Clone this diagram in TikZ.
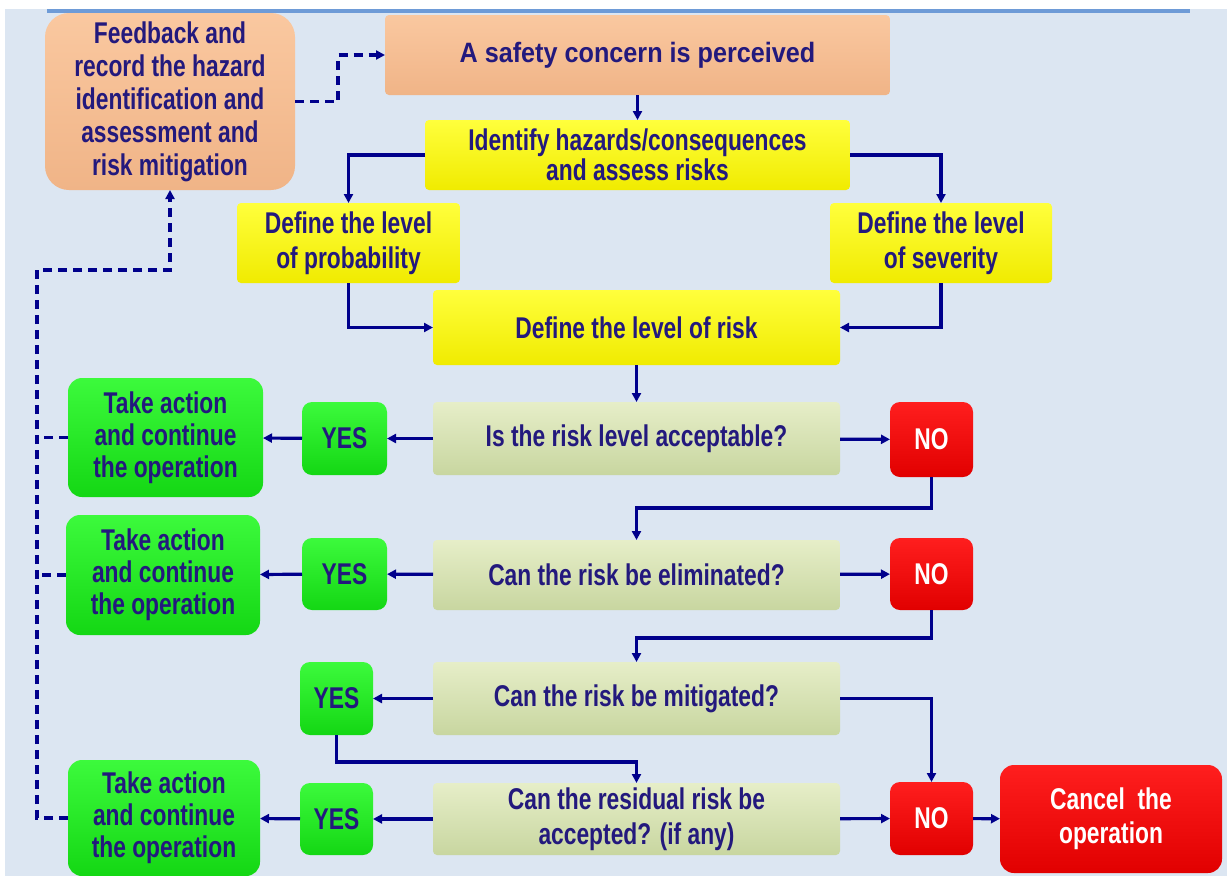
\documentclass[tikz,border=0pt]{standalone}
\usepackage{fontspec}
\setmainfont{Liberation Sans}[FakeStretch=0.76]
\newfontfamily\widef{Liberation Sans}[FakeStretch=0.9]
\usetikzlibrary{arrows.meta}
\definecolor{bgc}{RGB}{220,230,242}
\definecolor{topline}{RGB}{110,155,215}
\definecolor{navy}{RGB}{0,0,140}
\definecolor{txtc}{RGB}{35,25,125}
\definecolor{orangeA}{RGB}{250,200,160}
\definecolor{orangeB}{RGB}{240,180,135}
\definecolor{yellowA}{RGB}{255,255,60}
\definecolor{yellowB}{RGB}{240,235,0}
\definecolor{oliveA}{RGB}{230,238,200}
\definecolor{oliveB}{RGB}{200,214,160}
\definecolor{greenA}{RGB}{60,250,60}
\definecolor{greenB}{RGB}{20,215,20}
\definecolor{redA}{RGB}{255,30,30}
\definecolor{redB}{RGB}{225,0,0}
\tikzset{
  box/.style={inner sep=0pt, outer sep=0pt, align=center, text=txtc,
    font=\fontsize{30}{33}\selectfont\bfseries},
  orangebox/.style={box, top color=orangeA, bottom color=orangeB},
  yellowbox/.style={box, top color=yellowA, bottom color=yellowB, rounded corners=4pt},
  qbox/.style={box, top color=oliveA, bottom color=oliveB, rounded corners=4pt},
  greenbox/.style={box, top color=greenA, bottom color=greenB},
  redbox/.style={box, top color=redA, bottom color=redB, text=white},
  conn/.style={draw=navy, line width=3.2pt, -{Triangle[length=9pt,width=9pt]}},
  fbline/.style={draw=navy, line width=3.2pt, dash pattern=on 9pt off 6pt},
}
\begin{document}
\begin{tikzpicture}[x=1pt,y=-1pt]
\useasboundingbox (0,0) rectangle (1227,876);
\fill[white] (0,0) rectangle (1227,876);
\fill[bgc] (5,9) rectangle (1227,876);
\draw[topline, line width=3.5pt] (47,11) -- (1190,11);

% nodes
\node[orangebox, rounded corners=24pt, minimum width=250pt, minimum height=177pt] (fb) at (170,101.5)
  {Feedback and\\record the hazard\\identification and\\assessment and\\risk mitigation};
\node[orangebox, rounded corners=4pt, minimum width=505pt, minimum height=80pt, font=\widef\fontsize{28}{33}\selectfont\bfseries] (safe) at (637.5,55)
  {A safety concern is perceived};
\node[yellowbox, minimum width=425pt, minimum height=70pt, font=\fontsize{30}{30}\selectfont\bfseries] (ident) at (637.5,155)
  {Identify hazards/consequences\\and assess risks};
\node[yellowbox, minimum width=223pt, minimum height=80pt, font=\fontsize{30}{35}\selectfont\bfseries] (prob) at (348.5,243)
  {Define the level\\of probability};
\node[yellowbox, minimum width=222pt, minimum height=80pt, font=\fontsize{30}{35}\selectfont\bfseries] (sev) at (941,243)
  {Define the level\\of severity};
\node[yellowbox, minimum width=407pt, minimum height=75pt] (risk) at (636.5,327.5)
  {Define the level of risk};

\node[qbox, minimum width=407pt, minimum height=73pt] (q1) at (636.5,438.5)
  {Is the risk level acceptable?};
\node[redbox, rounded corners=10pt, minimum width=83pt, minimum height=75pt] (no1) at (931.5,439.5) {NO};
\node[greenbox, rounded corners=10pt, minimum width=85pt, minimum height=73pt] (yes1) at (344.5,438.5) {YES};
\node[greenbox, rounded corners=14pt, minimum width=195pt, minimum height=119pt, font=\fontsize{30}{32}\selectfont\bfseries] (ta1) at (165.5,437.5)
  {Take action\\and continue\\the operation};

\node[qbox, minimum width=407pt, minimum height=70pt] (q2) at (636.5,575)
  {Can the risk be eliminated?};
\node[redbox, rounded corners=10pt, minimum width=83pt, minimum height=72pt] (no2) at (931.5,574) {NO};
\node[greenbox, rounded corners=10pt, minimum width=85pt, minimum height=72pt] (yes2) at (344.5,574) {YES};
\node[greenbox, rounded corners=14pt, minimum width=194pt, minimum height=120pt, font=\fontsize{30}{32}\selectfont\bfseries] (ta2) at (163,575)
  {Take action\\and continue\\the operation};

\node[qbox, minimum width=407pt, minimum height=73pt] (q3) at (636.5,698.5)
  {Can the risk be mitigated?};
\node[greenbox, rounded corners=10pt, minimum width=73pt, minimum height=73pt] (yes3) at (336.5,698.5) {YES};

\node[qbox, minimum width=407pt, minimum height=72pt, font=\fontsize{30}{35}\selectfont\bfseries] (q4) at (636.5,819)
  {Can the residual risk be\\accepted? (if any)};
\node[greenbox, rounded corners=10pt, minimum width=73pt, minimum height=72pt] (yes4) at (336.5,819) {YES};
\node[redbox, rounded corners=10pt, minimum width=83pt, minimum height=73pt] (no4) at (931.5,818.5) {NO};
\node[redbox, rounded corners=14pt, minimum width=222pt, minimum height=108pt, font=\fontsize{30}{34}\selectfont\bfseries] (cancel) at (1111,819)
  {Cancel~~the\\operation};
\node[greenbox, rounded corners=14pt, minimum width=192pt, minimum height=116pt, font=\fontsize{30}{32}\selectfont\bfseries] (ta3) at (164,818)
  {Take action\\and continue\\the operation};

% solid connectors
\draw[conn] (safe) -- (ident);
\draw[conn] (ident.west) -| (prob.north);
\draw[conn] (ident.east) -| (sev.north);
\draw[conn] (prob.south) |- (risk.west);
\draw[conn] (sev.south) |- (risk.east);
\draw[conn] (risk) -- (q1);
\draw[conn] (q1) -- (yes1);
\draw[conn] (yes1) -- (ta1);
\draw[conn] (q1) -- (no1);
\draw[conn] (no1.south) -- ++(0,31) -| (q2.north);
\draw[conn] (q2) -- (yes2);
\draw[conn] (yes2) -- (ta2);
\draw[conn] (q2) -- (no2);
\draw[conn] (no2.south) -- ++(0,28) -| (q3.north);
\draw[conn] (q3) -- (yes3);
\draw[conn] (q3.east) -| (no4.north);
\draw[conn] (yes3.south) -- ++(0,27) -| (q4.north);
\draw[conn] (q4) -- (yes4);
\draw[conn] (yes4) -- (ta3);
\draw[conn] (q4) -- (no4);
\draw[conn] (no4) -- (cancel);

% dashed feedback connectors
\coordinate (lx) at (37,270);
\draw[fbline, -{Triangle[length=9pt,width=9pt]}] (fb.east) -- ++(43,0) |- (safe.west);
\draw[fbline, -{Triangle[length=9pt,width=9pt]}] (ta3.west) -| (lx) -| (fb.south);
\draw[fbline] (ta1.west) -- (ta1.west -| lx);
\draw[fbline] (ta2.west) -- (ta2.west -| lx);
\end{tikzpicture}
\end{document}
